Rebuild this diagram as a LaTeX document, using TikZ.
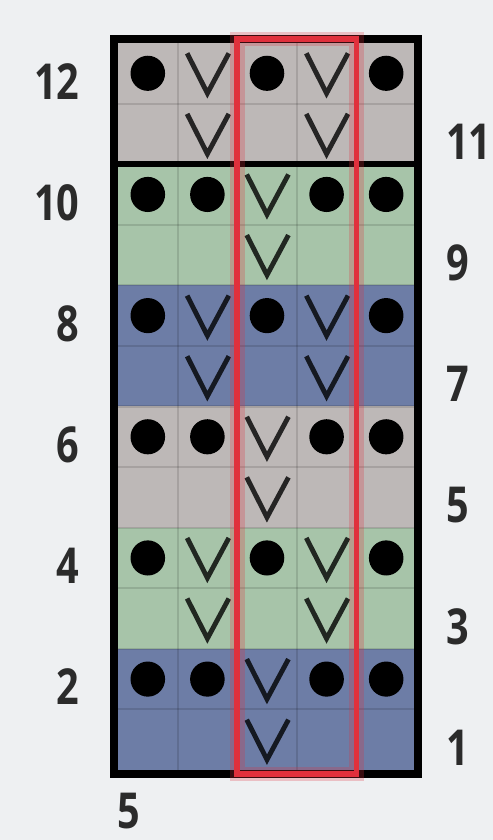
\documentclass[tikz,border=0pt]{standalone}
\usepackage{fontspec}
\setmainfont[FakeStretch=0.8]{Open Sans}
\usetikzlibrary{calc}
\definecolor{greyrow}{HTML}{BDB8B7}
\definecolor{greenrow}{HTML}{A7C4A9}
\definecolor{bluerow}{HTML}{6D7DA6}
\definecolor{repred}{HTML}{E0303C}
\definecolor{ink}{HTML}{2B2B2B}
\definecolor{paper}{HTML}{EEF0F2}
\tikzset{
  cellline/.style={black,opacity=.12,line width=1pt},
  dot/.style={fill=black},
  slip/.style={draw=black,opacity=.8,line width=2.3pt},
  slipv/.pic={\draw[slip] (-.34,.33) -- (0,-.33) -- (.36,.33);},
  rowno/.style={font=\fontsize{23.5}{28}\selectfont\bfseries,text=ink,inner sep=0pt}
}

\begin{document}
\begin{tikzpicture}[x=0.9933cm,y=1.0097cm]
\useasboundingbox[fill=paper] (-1.98,-1.156) rectangle (6.292,12.71);
% colour bands, two rows each
\foreach \c [count=\i from 0] in {bluerow,greenrow,greyrow,bluerow,greenrow,greyrow}
  \fill[\c] (0,2*\i) rectangle (5,2*\i+2);
\foreach \x in {1,...,4} \draw[cellline] (\x,0) -- (\x,12);
\foreach \y in {1,...,11} \draw[cellline] (0,\y) -- (5,\y);
% stitches
\foreach \r in {4,8,12} {
  \foreach \c in {1,3,5} \fill[dot] (\c-.5,\r-.5) circle (0.29);
  \foreach \c in {2,4} {
    \pic at (\c-.5,\r-.5) {slipv};
    \pic at (\c-.5,\r-1.5) {slipv};
  }
}
\foreach \r in {2,6,10} {
  \foreach \c in {1,2,4,5} \fill[dot] (\c-.5,\r-.5) circle (0.29);
  \pic at (2.5,\r-.5) {slipv};
  \pic at (2.5,\r-1.5) {slipv};
}
% frame and repeat
\draw[line width=3.8pt] (-0.067,-0.066) rectangle (5.034,12.066);
\draw[line width=2.6pt] (0,10) -- (5,10);
\draw[repred,opacity=.25,line width=7pt] (2,-0.066) rectangle (4,12.066);
\draw[repred,line width=2.6pt] (2,-0.066) rectangle (4,12.066);
% row numbers
\foreach \r in {2,4,...,12} \node[rowno,anchor=east] (l\r) at (-0.64,\r-0.63) {\r};
\foreach \r in {1,3,...,11} \node[rowno,anchor=west] (r\r) at (5.5,\r-0.63) {\r};
\node[rowno] (sts) at (0.185,-0.68) {5};
\end{tikzpicture}
\end{document}
